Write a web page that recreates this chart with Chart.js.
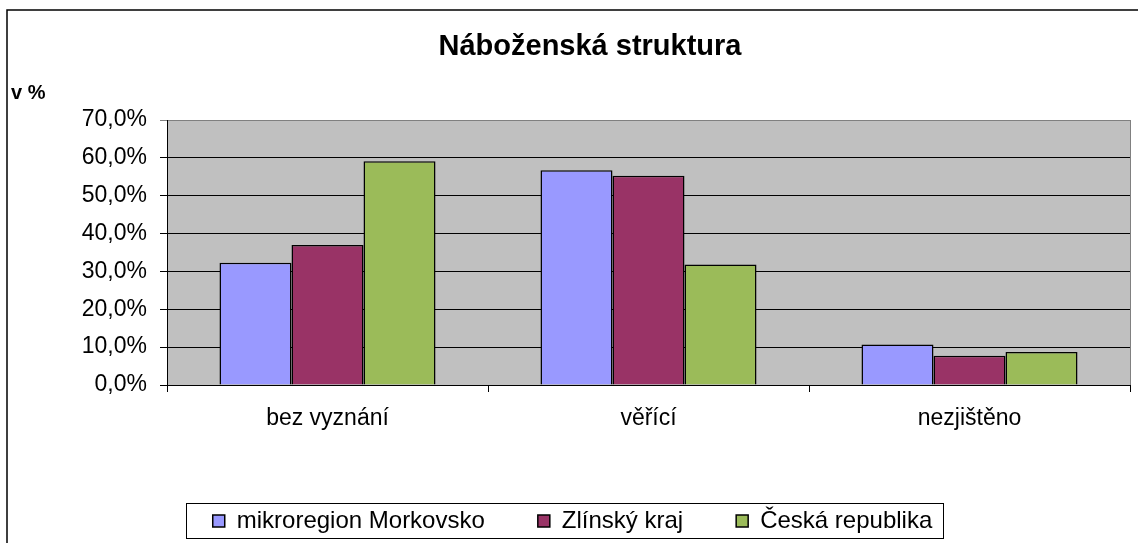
<!DOCTYPE html>
<html>
<head>
<meta charset="utf-8">
<script src="https://cdn.jsdelivr.net/npm/chart.js@4/dist/chart.umd.min.js"></script>
<style>
  body { margin: 0; background: #fff; }
  canvas { display: block; }
</style>
</head>
<body>
<canvas id="chart" width="1138" height="543"></canvas>
<script>
// data
const categories = ['bez vyznání', 'věřící', 'nezjištěno'];
const morkovsko = [32.3, 56.7, 10.7];
const zlinsky = [37.0, 55.3, 7.7];
const ceskaRepublika = [59.1, 31.8, 8.7];
const seriesNames = ['mikroregion Morkovsko', 'Zlínský kraj', 'Česká republika'];
const chartTitle = 'Náboženská struktura';
const yUnit = 'v %';

const FONT = "'Liberation Sans', Arial, sans-serif";

// gray plot background, frame lines, title and unit label, legend box
const decorPlugin = {
  id: 'decor',
  beforeDraw(chart) {
    const { ctx, chartArea: a } = chart;
    ctx.save();
    ctx.fillStyle = '#C0C0C0';
    ctx.fillRect(a.left, a.top, a.right - a.left, a.bottom - a.top);
    ctx.strokeStyle = '#808080';
    ctx.lineWidth = 1;
    ctx.beginPath();
    ctx.moveTo(a.right + 0.5, a.top);
    ctx.lineTo(a.right + 0.5, a.bottom);
    ctx.stroke();
    ctx.restore();
  },
  afterDraw(chart) {
    const { ctx } = chart;
    ctx.save();
    // outer frame (only top and left are inside the picture)
    ctx.strokeStyle = '#000';
    ctx.lineWidth = 1.5;
    ctx.beginPath();
    ctx.moveTo(1138, 10);
    ctx.lineTo(7, 10);
    ctx.lineTo(7, 543);
    ctx.stroke();

    ctx.fillStyle = '#000';
    ctx.textBaseline = 'middle';
    ctx.textAlign = 'center';
    ctx.font = 'bold 29px ' + FONT;
    ctx.fillText(chartTitle, 590, 47);
    ctx.textAlign = 'left';
    ctx.font = 'bold 20px ' + FONT;
    ctx.fillText(yUnit, 11, 93);

    // box around legend
    const hb = chart.legend.legendHitBoxes;
    if (hb && hb.length) {
      const first = hb[0], last = hb[hb.length - 1];
      const cy = first.top + first.height / 2;
      const left = first.left - 27;
      const right = last.left + last.width + 10;
      ctx.strokeStyle = '#000';
      ctx.lineWidth = 1;
      ctx.strokeRect(Math.round(left) + 0.5, Math.round(cy - 18) + 0.5, Math.round(right - left), 35);
    }
    ctx.restore();
  }
};

const colors = ['#9999FF', '#993366', '#9BBB59'];
const values = [morkovsko, zlinsky, ceskaRepublika];

new Chart(document.getElementById('chart'), {
  type: 'bar',
  data: {
    labels: categories,
    datasets: seriesNames.map((name, i) => ({
      label: name,
      data: values[i],
      backgroundColor: colors[i],
      borderColor: '#000',
      borderWidth: 1.5,
      categoryPercentage: 0.673,
      barPercentage: 1.0,
    })),
  },
  options: {
    responsive: false,
    animation: false,
    layout: { padding: { top: 120, right: 8, bottom: 0, left: 15 } },
    plugins: {
      title: { display: false },
      tooltip: { enabled: false },
      legend: {
        display: true,
        position: 'bottom',
        labels: {
          color: '#000',
          font: { family: FONT, size: 24 },
          boxWidth: 12,
          boxHeight: 12,
          padding: 53,
        },
      },
    },
    scales: {
      x: {
        afterFit(scale) { scale.height = 71; },
        grid: {
          offset: true,
          drawOnChartArea: false,
          drawTicks: true,
          tickLength: 7,
          color: '#000',
        },
        border: { display: true, color: '#000', width: 1 },
        ticks: {
          color: '#000',
          padding: 13,
          font: { family: FONT, size: 23 },
        },
      },
      y: {
        min: 0,
        max: 70,
        afterFit(scale) { scale.width = 152; },
        grid: {
          color: (c) => (c.tick && c.tick.value === 70 ? '#808080' : '#000'),
          tickLength: 7,
          lineWidth: 1,
        },
        border: { display: true, color: '#000', width: 1 },
        ticks: {
          stepSize: 10,
          color: '#000',
          padding: 13,
          font: { family: FONT, size: 23 },
          callback: (v) => v.toFixed(1).replace('.', ',') + '%',
        },
      },
    },
  },
  plugins: [decorPlugin],
});
</script>
</body>
</html>
